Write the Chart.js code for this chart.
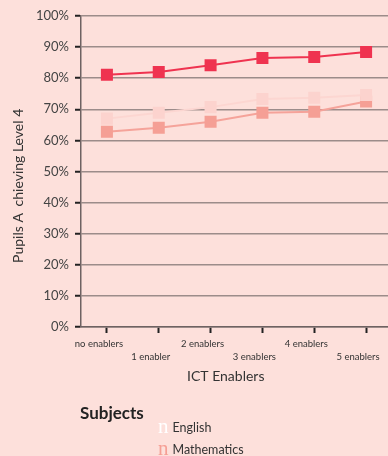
<!DOCTYPE html>
<html>
<head>
<meta charset="utf-8">
<script src="https://cdn.jsdelivr.net/npm/chart.js@4.4.0/dist/chart.umd.min.js"></script>
<style>
  body { margin: 0; background: #fde0db; overflow: hidden; }
  #wrap { position: relative; width: 388px; height: 456px; background: #fde0db; overflow: hidden; }
  #legend { position: absolute; left: 80px; top: 402px; font-family: Lato, sans-serif; color: #333; }
  #legend .ttl { font-weight: bold; font-size: 17px; color: #222; }
  #legend .item { position: absolute; left: 78px; white-space: nowrap; font-size: 12.5px; line-height: 20px; }
  #legend .mk { font-family: "Liberation Serif", serif; font-size: 21px; margin-right: 4px; vertical-align: -1px; }
</style>
</head>
<body>
<div id="wrap">
  <!-- plot runs a few px past the right edge, as in the original -->
  <canvas id="chart" width="392" height="456"></canvas>
  <div id="legend">
    <div class="ttl">Subjects</div>
    <div class="item" style="top:14px"><span class="mk" style="color:#ffffff">n</span>English</div>
    <div class="item" style="top:36px"><span class="mk" style="color:#f59f95">n</span>Mathematics</div>
  </div>
</div>
<script>
// categories along the x axis
const categories = ['no enablers', '1 enabler', '2 enablers', '3 enablers', '4 enablers', '5 enablers'];
// percent of pupils achieving level 4
const scienceValues = [81.1, 82.0, 84.2, 86.5, 86.8, 88.4];
const englishValues = [67.0, 68.9, 70.7, 73.3, 73.7, 74.6];
const mathsValues = [62.8, 64.1, 66.0, 68.9, 69.2, 72.5];
const yTicks = [0, 10, 20, 30, 40, 50, 60, 70, 80, 90, 100];

// staggered labels: even ones on the first row, odd ones on the second
const xLabels = categories.map((c, i) => i % 2 === 0 ? [c, ''] : ['', c]);

const ctx = document.getElementById('chart').getContext('2d');
new Chart(ctx, {
  type: 'line',
  data: {
    labels: xLabels,
    datasets: [
      {
        label: 'Science',
        data: scienceValues,
        borderColor: '#ef3350',
        backgroundColor: '#ef3350',
        borderWidth: 2,
        pointStyle: 'rect',
        pointRadius: 8.5,
        pointBorderWidth: 0,
      },
      {
        label: 'English',
        data: englishValues,
        borderColor: '#fcd6d1',
        backgroundColor: '#fcd3ce',
        borderWidth: 2,
        pointStyle: 'rect',
        pointRadius: 8.5,
        pointBorderWidth: 0,
      },
      {
        label: 'Mathematics',
        data: mathsValues,
        borderColor: '#f5a39a',
        backgroundColor: '#f59f95',
        borderWidth: 2,
        pointStyle: 'rect',
        pointRadius: 8.5,
        pointBorderWidth: 0,
      },
    ],
  },
  options: {
    responsive: false,
    animation: false,
    layout: { autoPadding: false, padding: { top: 16, right: 0, bottom: 67, left: 0 } },
    plugins: {
      legend: { display: false },
      tooltip: { enabled: false },
    },
    scales: {
      x: {
        offset: true,
        afterFit: (scale) => {
          scale.height = 62;
          // labels sit left of their ticks, so no extra room is needed at the sides
          scale.paddingLeft = 0;
          scale.paddingRight = 0;
        },
        grid: {
          offset: false,
          drawOnChartArea: false,
          drawTicks: true,
          tickLength: 6,
          tickWidth: 2,
          tickColor: '#222',
        },
        border: { color: '#6e6262', width: 1.5 },
        ticks: {
          autoSkip: false,
          maxRotation: 0,
          labelOffset: -8,
          padding: 4,
          color: '#333',
          font: { family: 'Lato', size: 9.5, lineHeight: 1.4 },
        },
        title: {
          display: true,
          text: 'ICT Enablers' + '\u00A0'.repeat(6),
          color: '#333',
          font: { family: 'Lato', size: 14 },
          padding: { top: 0, bottom: 4 },
        },
      },
      y: {
        min: 0,
        max: 100,
        afterFit: (scale) => { scale.width = 81; },
        afterBuildTicks: (scale) => { scale.ticks = yTicks.map(v => ({ value: v })); },
        grid: {
          color: '#9c8c8a',
          lineWidth: 1.5,
          tickLength: 6,
          tickWidth: 2,
          tickColor: '#222',
        },
        border: { color: '#6e6262', width: 1.5 },
        ticks: {
          padding: 6,
          color: '#444',
          font: { family: 'Lato', size: 13 },
          callback: (v) => v + '%',
        },
        title: {
          display: true,
          text: 'Pupils A\u00A0\u00A0chieving Level 4' + '\u00A0'.repeat(8),
          color: '#333',
          font: { family: 'Lato', size: 14 },
          padding: { top: 10, bottom: 0 },
        },
      },
    },
  },
});
</script>
</body>
</html>
